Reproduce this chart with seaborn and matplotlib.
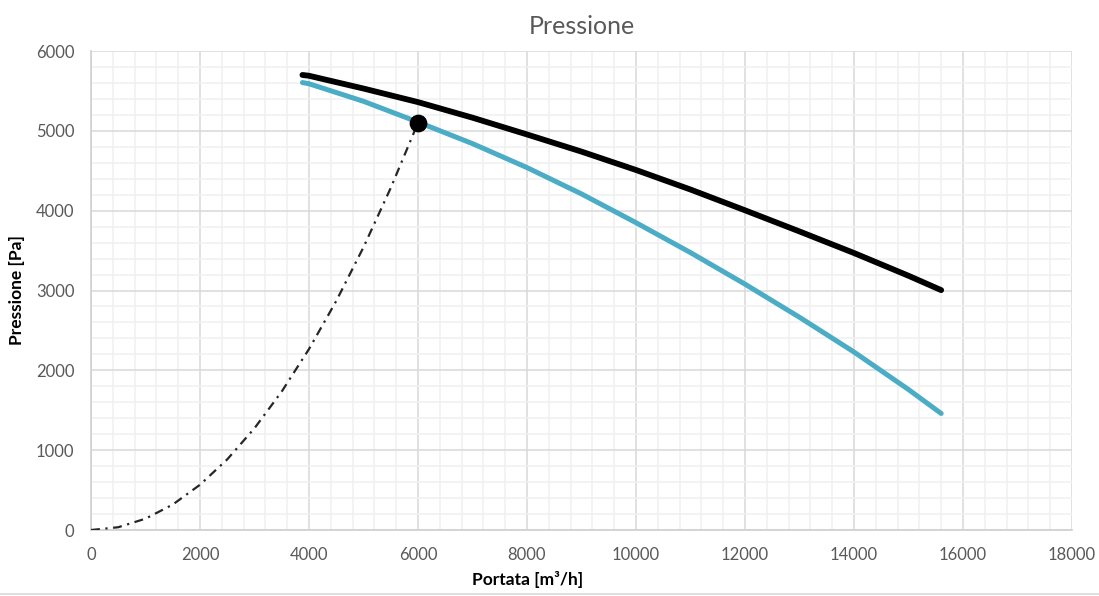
import matplotlib.pyplot as plt
import seaborn as sns
import pandas as pd

# fan curves (flow m3/h -> pressure Pa)
portata_nera = [3880, 4000, 5000, 6000, 7000, 8000, 9000, 10000, 11000, 12000, 13000, 14000, 15000, 15600]
pressione_nera = [5700, 5690, 5530, 5360, 5165, 4955, 4740, 4510, 4265, 4005, 3740, 3470, 3185, 3005]

portata_blu = [3880, 4000, 5000, 6000, 7000, 8000, 9000, 10000, 11000, 12000, 13000, 14000, 15000, 15600]
pressione_blu = [5605, 5590, 5370, 5110, 4840, 4540, 4210, 3850, 3475, 3080, 2665, 2230, 1760, 1460]

# system curve
portata_impianto = [0, 500, 1000, 1500, 2000, 2500, 3000, 3500, 4000, 4500, 5000, 5500, 6000]
pressione_impianto = [0, 35, 142, 319, 567, 885, 1275, 1735, 2267, 2869, 3542, 4285, 5100]

# operating point
punto_x = [6000]
punto_y = [5100]

sns.set_style("white")
plt.rcParams["font.family"] = ["Lato", "DejaVu Sans"]

fig = plt.figure(figsize=(10.99, 5.96), dpi=100)
ax = fig.add_axes([0.0828, 0.1107, 0.8926, 0.8037])

df_nera = pd.DataFrame({"x": portata_nera, "y": pressione_nera})
df_blu = pd.DataFrame({"x": portata_blu, "y": pressione_blu})
df_imp = pd.DataFrame({"x": portata_impianto, "y": pressione_impianto})

sns.lineplot(data=df_imp, x="x", y="y", ax=ax, color="#262626", lw=1.6,
             linestyle=(0, (4, 2.5, 1, 2.5)), sort=False, zorder=3)
sns.lineplot(data=df_nera, x="x", y="y", ax=ax, color="black", lw=4.2,
             sort=False, solid_capstyle="round", solid_joinstyle="round", zorder=4)
sns.lineplot(data=df_blu, x="x", y="y", ax=ax, color="#4bacc6", lw=3.6,
             sort=False, solid_capstyle="round", solid_joinstyle="round", zorder=4)
sns.scatterplot(x=punto_x, y=punto_y, ax=ax, color="black", s=140,
                edgecolor="black", zorder=5)

ax.set_xlim(0, 18000)
ax.set_ylim(0, 6000)
ax.set_xticks(range(0, 18001, 2000))
ax.set_yticks(range(0, 6001, 1000))
ax.set_xticks(range(0, 18001, 400), minor=True)
ax.set_yticks(range(0, 6001, 200), minor=True)
ax.grid(which="major", color="#d9d9d9", lw=1.1)
ax.grid(which="minor", color="#f0f0f0", lw=1.1)
ax.set_axisbelow(True)

for s in ["top", "right"]:
    ax.spines[s].set_visible(False)
for s in ["left", "bottom"]:
    ax.spines[s].set_color("#d0d0d0")
    ax.spines[s].set_linewidth(1.2)

ax.tick_params(which="both", length=0, labelsize=12, labelcolor="#595959", pad=12)

ax.set_title("Pressione", fontsize=18, color="#595959", pad=12)
ax.set_xlabel("Portata [m³/h]", fontsize=12.5, fontweight="bold", color="black", labelpad=4)
ax.xaxis.set_label_coords(0.445, -0.085)
ax.set_ylabel("Pressione [Pa]", fontsize=12.5, fontweight="bold", color="black", labelpad=8)

# chart area border at the bottom
fig.add_artist(plt.Line2D([0, 1], [0.004, 0.004], color="#d9d9d9", lw=1.2))

fig.savefig("out.png", dpi=100)
